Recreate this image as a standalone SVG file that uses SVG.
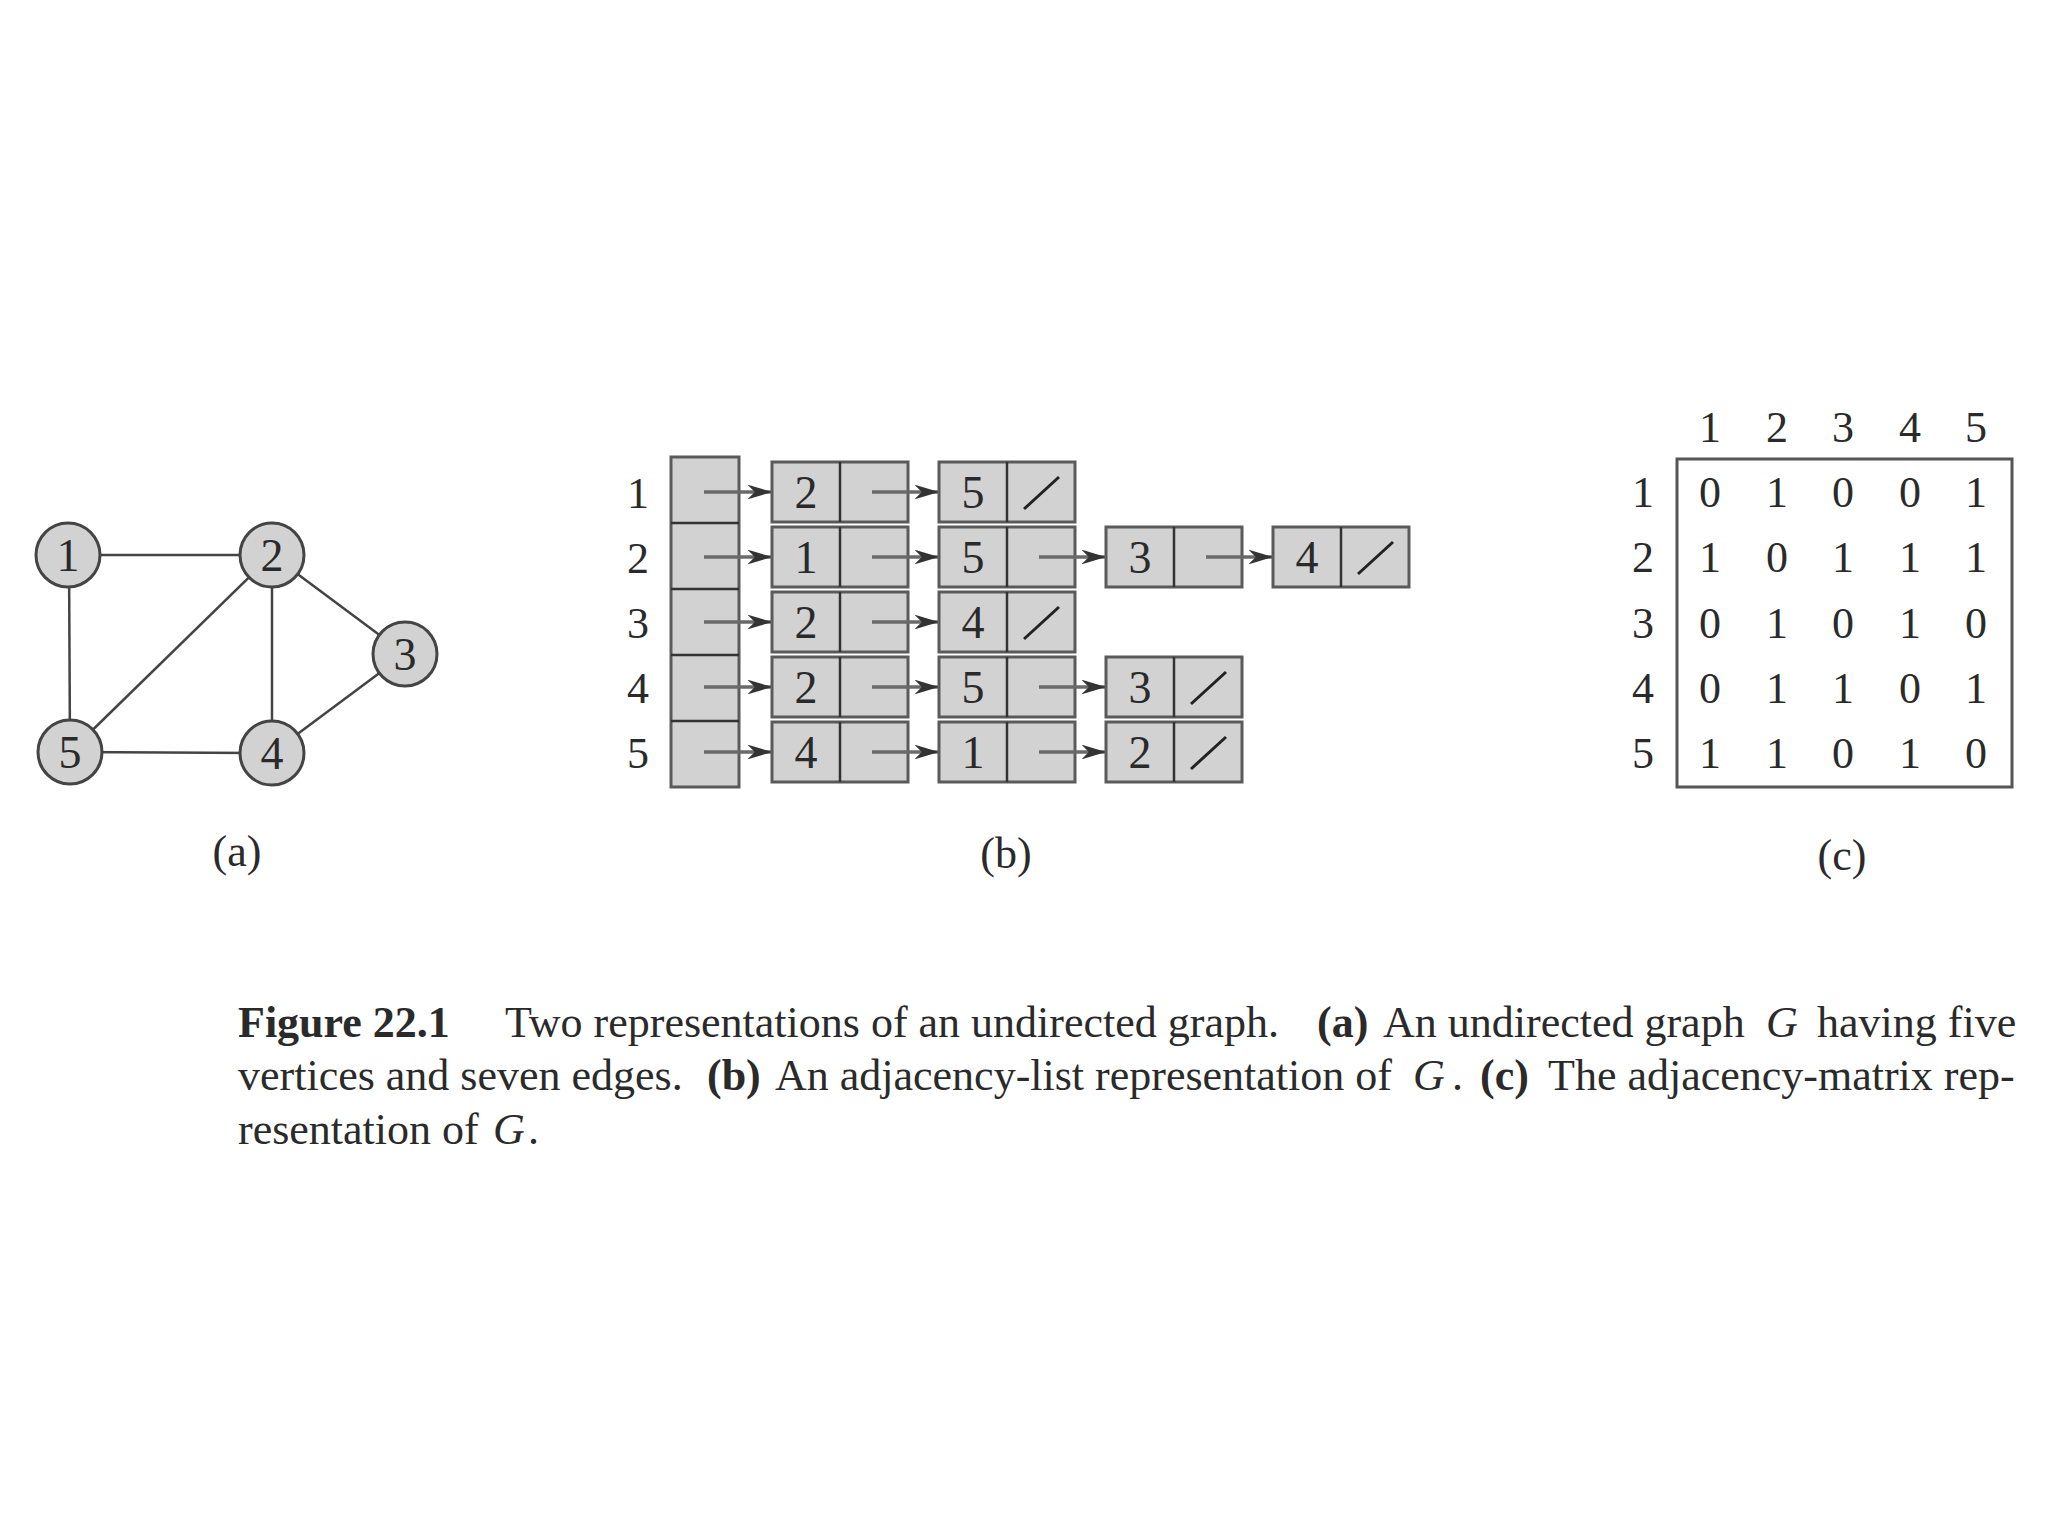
<svg xmlns="http://www.w3.org/2000/svg" width="2048" height="1536" viewBox="0 0 2048 1536">
<style>
  text { font-family: "Liberation Serif", "Times New Roman", serif; fill: #2a2a2a; }
  .num { font-size: 46px; text-anchor: middle; }
  .lab { font-size: 44px; text-anchor: middle; }
  .cap { font-size: 44px; }
  .b { font-weight: bold; }
  .i { font-style: italic; }
  .vtx { fill: #d2d2d2; stroke: #444; stroke-width: 3; }
  .edge { stroke: #444; stroke-width: 2.5; fill: none; }
  .cell { fill: #d2d2d2; stroke: #5a5a5a; stroke-width: 3; }
  .div { stroke: #333; stroke-width: 2.5; }
  .ptr { stroke: #6a6a6a; stroke-width: 3.5; fill: none; marker-end: url(#ah); }
  .nil { stroke: #222; stroke-width: 3; }
  .box { fill: none; stroke: #555; stroke-width: 3; }
</style>
<defs>
  <marker id="ah" viewBox="0 0 10 6" refX="10" refY="3" markerWidth="7" markerHeight="4.2" markerUnits="strokeWidth" orient="auto">
    <path d="M0,0 L10,3 L0,6 L3,3 Z" fill="#333"/>
  </marker>
</defs>
<rect width="2048" height="1536" fill="#fff"/>

<!-- (a) graph -->
<g id="edges-a">
  <line class="edge" x1="68" y1="555" x2="272" y2="555"/>
  <line class="edge" x1="69" y1="555" x2="70" y2="752"/>
  <line class="edge" x1="272" y1="555" x2="70" y2="752"/>
  <line class="edge" x1="272" y1="555" x2="272" y2="753"/>
  <line class="edge" x1="272" y1="555" x2="405" y2="654"/>
  <line class="edge" x1="405" y1="654" x2="272" y2="753"/>
  <line class="edge" x1="70" y1="752" x2="272" y2="753"/>
</g>
<g id="v1"><circle class="vtx" cx="68" cy="555" r="32"/><text class="num" x="68" y="571">1</text></g>
<g id="v2"><circle class="vtx" cx="272" cy="555" r="32"/><text class="num" x="272" y="571">2</text></g>
<g id="v3"><circle class="vtx" cx="405" cy="654" r="32"/><text class="num" x="405" y="670">3</text></g>
<g id="v4"><circle class="vtx" cx="272" cy="753" r="32"/><text class="num" x="272" y="769">4</text></g>
<g id="v5"><circle class="vtx" cx="70" cy="752" r="32"/><text class="num" x="70" y="768">5</text></g>
<text class="lab" x="237" y="866">(a)</text>

<!-- (b) adjacency list -->
<g id="row-labels">
  <text class="lab" x="638" y="508">1</text>
  <text class="lab" x="638" y="573">2</text>
  <text class="lab" x="638" y="638">3</text>
  <text class="lab" x="638" y="703">4</text>
  <text class="lab" x="638" y="768">5</text>
</g>
<g id="head-array">
  <rect class="cell" x="671" y="457" width="68" height="330"/>
  <line class="div" x1="671" y1="523" x2="739" y2="523"/>
  <line class="div" x1="671" y1="589" x2="739" y2="589"/>
  <line class="div" x1="671" y1="655" x2="739" y2="655"/>
  <line class="div" x1="671" y1="721" x2="739" y2="721"/>
</g>

<!-- row 1 -->
<g id="n1a"><rect class="cell" x="772" y="462" width="136" height="60"/><line class="div" x1="840" y1="462" x2="840" y2="522"/><text class="num" x="806" y="508">2</text></g>
<g id="n1b"><rect class="cell" x="939" y="462" width="136" height="60"/><line class="div" x1="1007" y1="462" x2="1007" y2="522"/><text class="num" x="973" y="508">5</text><line class="nil" x1="1024" y1="509" x2="1059" y2="477"/></g>
<!-- row 2 -->
<g id="n2a"><rect class="cell" x="772" y="527" width="136" height="60"/><line class="div" x1="840" y1="527" x2="840" y2="587"/><text class="num" x="806" y="573">1</text></g>
<g id="n2b"><rect class="cell" x="939" y="527" width="136" height="60"/><line class="div" x1="1007" y1="527" x2="1007" y2="587"/><text class="num" x="973" y="573">5</text></g>
<g id="n2c"><rect class="cell" x="1106" y="527" width="136" height="60"/><line class="div" x1="1174" y1="527" x2="1174" y2="587"/><text class="num" x="1140" y="573">3</text></g>
<g id="n2d"><rect class="cell" x="1273" y="527" width="136" height="60"/><line class="div" x1="1341" y1="527" x2="1341" y2="587"/><text class="num" x="1307" y="573">4</text><line class="nil" x1="1358" y1="574" x2="1393" y2="542"/></g>
<!-- row 3 -->
<g id="n3a"><rect class="cell" x="772" y="592" width="136" height="60"/><line class="div" x1="840" y1="592" x2="840" y2="652"/><text class="num" x="806" y="638">2</text></g>
<g id="n3b"><rect class="cell" x="939" y="592" width="136" height="60"/><line class="div" x1="1007" y1="592" x2="1007" y2="652"/><text class="num" x="973" y="638">4</text><line class="nil" x1="1024" y1="639" x2="1059" y2="607"/></g>
<!-- row 4 -->
<g id="n4a"><rect class="cell" x="772" y="657" width="136" height="60"/><line class="div" x1="840" y1="657" x2="840" y2="717"/><text class="num" x="806" y="703">2</text></g>
<g id="n4b"><rect class="cell" x="939" y="657" width="136" height="60"/><line class="div" x1="1007" y1="657" x2="1007" y2="717"/><text class="num" x="973" y="703">5</text></g>
<g id="n4c"><rect class="cell" x="1106" y="657" width="136" height="60"/><line class="div" x1="1174" y1="657" x2="1174" y2="717"/><text class="num" x="1140" y="703">3</text><line class="nil" x1="1191" y1="704" x2="1226" y2="672"/></g>
<!-- row 5 -->
<g id="n5a"><rect class="cell" x="772" y="722" width="136" height="60"/><line class="div" x1="840" y1="722" x2="840" y2="782"/><text class="num" x="806" y="768">4</text></g>
<g id="n5b"><rect class="cell" x="939" y="722" width="136" height="60"/><line class="div" x1="1007" y1="722" x2="1007" y2="782"/><text class="num" x="973" y="768">1</text></g>
<g id="n5c"><rect class="cell" x="1106" y="722" width="136" height="60"/><line class="div" x1="1174" y1="722" x2="1174" y2="782"/><text class="num" x="1140" y="768">2</text><line class="nil" x1="1191" y1="769" x2="1226" y2="737"/></g>

<g id="pointers">
  <line class="ptr" x1="704" y1="492" x2="772" y2="492"/>
  <line class="ptr" x1="704" y1="557" x2="772" y2="557"/>
  <line class="ptr" x1="704" y1="622" x2="772" y2="622"/>
  <line class="ptr" x1="704" y1="687" x2="772" y2="687"/>
  <line class="ptr" x1="704" y1="752" x2="772" y2="752"/>
  <line class="ptr" x1="872" y1="492" x2="939" y2="492"/>
  <line class="ptr" x1="872" y1="557" x2="939" y2="557"/>
  <line class="ptr" x1="872" y1="622" x2="939" y2="622"/>
  <line class="ptr" x1="872" y1="687" x2="939" y2="687"/>
  <line class="ptr" x1="872" y1="752" x2="939" y2="752"/>
  <line class="ptr" x1="1039" y1="557" x2="1106" y2="557"/>
  <line class="ptr" x1="1039" y1="687" x2="1106" y2="687"/>
  <line class="ptr" x1="1039" y1="752" x2="1106" y2="752"/>
  <line class="ptr" x1="1206" y1="557" x2="1273" y2="557"/>
</g>
<text class="lab" x="1006" y="868">(b)</text>

<!-- (c) adjacency matrix -->
<g id="matrix">
  <rect class="box" x="1677" y="459" width="335" height="328"/>
  <text class="lab" x="1710" y="442">1</text><text class="lab" x="1777" y="442">2</text><text class="lab" x="1843" y="442">3</text><text class="lab" x="1910" y="442">4</text><text class="lab" x="1976" y="442">5</text>
  <text class="lab" x="1643" y="507">1</text><text class="lab" x="1643" y="572">2</text><text class="lab" x="1643" y="638">3</text><text class="lab" x="1643" y="703">4</text><text class="lab" x="1643" y="768">5</text>
  <text class="lab" x="1710" y="507">0</text><text class="lab" x="1777" y="507">1</text><text class="lab" x="1843" y="507">0</text><text class="lab" x="1910" y="507">0</text><text class="lab" x="1976" y="507">1</text>
  <text class="lab" x="1710" y="572">1</text><text class="lab" x="1777" y="572">0</text><text class="lab" x="1843" y="572">1</text><text class="lab" x="1910" y="572">1</text><text class="lab" x="1976" y="572">1</text>
  <text class="lab" x="1710" y="638">0</text><text class="lab" x="1777" y="638">1</text><text class="lab" x="1843" y="638">0</text><text class="lab" x="1910" y="638">1</text><text class="lab" x="1976" y="638">0</text>
  <text class="lab" x="1710" y="703">0</text><text class="lab" x="1777" y="703">1</text><text class="lab" x="1843" y="703">1</text><text class="lab" x="1910" y="703">0</text><text class="lab" x="1976" y="703">1</text>
  <text class="lab" x="1710" y="768">1</text><text class="lab" x="1777" y="768">1</text><text class="lab" x="1843" y="768">0</text><text class="lab" x="1910" y="768">1</text><text class="lab" x="1976" y="768">0</text>
</g>
<text class="lab" x="1842" y="870">(c)</text>

<!-- caption -->
<g id="caption">
  <text class="cap" y="1037"><tspan x="238" class="b">Figure 22.1</tspan><tspan x="505">Two representations of an undirected graph.</tspan><tspan x="1317" class="b">(a)</tspan><tspan x="1383">An undirected graph</tspan><tspan x="1766" class="i">G</tspan><tspan x="1817">having five</tspan></text>
  <text class="cap" y="1090"><tspan x="238">vertices and seven edges.</tspan><tspan x="707" class="b">(b)</tspan><tspan x="775">An adjacency-list representation of</tspan><tspan x="1413" class="i">G</tspan><tspan x="1452">.</tspan><tspan x="1480" class="b">(c)</tspan><tspan x="1548">The adjacency-matrix rep-</tspan></text>
  <text class="cap" y="1144"><tspan x="238">resentation of</tspan><tspan x="493" class="i">G</tspan><tspan x="528">.</tspan></text>
</g>
</svg>
